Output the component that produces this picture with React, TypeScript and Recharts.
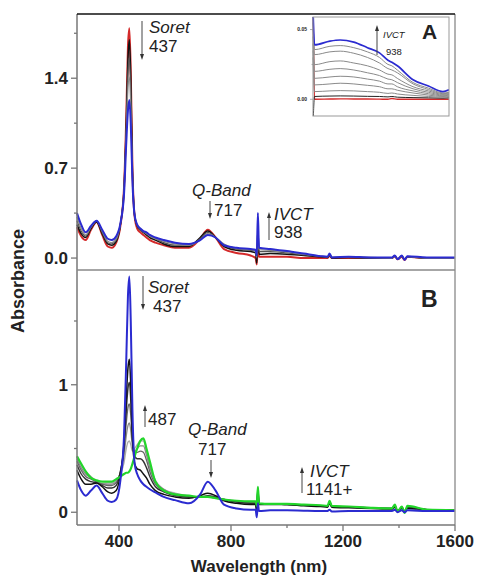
import { Line, LineChart, XAxis, YAxis } from "recharts";

const FONT = '"Liberation Sans", Arial, sans-serif';

// shared wavelength grid (nm) for both main panels
const WAVELENGTH = [
  250, 265, 281, 300, 320, 340, 360, 374, 390, 405,
  418, 426, 432, 437, 442, 448, 456, 465, 476, 487,
  498, 510, 530, 560, 600, 650, 690, 717, 745, 775,
  820, 870, 888, 892, 896, 900, 940, 1000, 1060, 1120,
  1145, 1152, 1160, 1220, 1300, 1375, 1385, 1395, 1410, 1420,
  1430, 1500, 1600,
];

// panel A (top)
const TOP_RED = [
  0.24, 0.17, 0.14, 0.22, 0.28, 0.18, 0.09, 0.08, 0.12, 0.25,
  0.55, 1.1, 1.65, 1.79, 1.45, 0.7, 0.32, 0.23, 0.2, 0.18,
  0.16, 0.14, 0.12, 0.1, 0.08, 0.08, 0.15, 0.22, 0.16, 0.07,
  0.04, 0.02, 0.0, -0.05, 0.1, 0.01, 0.01, 0.01, 0.0, 0.0,
  0.0, 0.02, 0.0, 0.0, 0.0, 0.0, 0.015, -0.01, 0.01, -0.015,
  0.01, 0.0, 0.0,
];
const TOP_BLACK = [
  0.26, 0.19, 0.16, 0.23, 0.28, 0.19, 0.11, 0.1, 0.13, 0.26,
  0.54, 1.05, 1.55, 1.7, 1.4, 0.68, 0.33, 0.25, 0.22, 0.2,
  0.18, 0.16, 0.14, 0.11, 0.09, 0.09, 0.16, 0.21, 0.16, 0.09,
  0.06, 0.05, 0.04, -0.04, 0.22, 0.03, 0.035, 0.03, 0.02, 0.01,
  0.005, 0.025, 0.0, 0.005, 0.0, 0.0, 0.015, -0.01, 0.015, -0.01,
  0.01, 0.0, 0.0,
];
const TOP_GRAY1 = [
  0.29, 0.21, 0.17, 0.24, 0.29, 0.2, 0.12, 0.11, 0.14, 0.26,
  0.53, 1.02, 1.45, 1.56, 1.3, 0.66, 0.33, 0.25, 0.22, 0.2,
  0.19, 0.17, 0.15, 0.12, 0.1, 0.1, 0.15, 0.2, 0.16, 0.1,
  0.07, 0.06, 0.055, 0.0, 0.15, 0.05, 0.05, 0.04, 0.025, 0.012,
  0.008, 0.03, 0.005, 0.005, 0.0, 0.0, 0.015, -0.005, 0.015, -0.01,
  0.01, 0.0, 0.0,
];
const TOP_GRAY2 = [
  0.32, 0.23, 0.18, 0.24, 0.29, 0.21, 0.13, 0.12, 0.15, 0.27,
  0.52, 0.97, 1.32, 1.41, 1.18, 0.63, 0.33, 0.26, 0.23, 0.21,
  0.19, 0.17, 0.15, 0.13, 0.11, 0.1, 0.14, 0.19, 0.16, 0.11,
  0.075, 0.065, 0.06, 0.01, 0.25, 0.065, 0.06, 0.05, 0.03, 0.015,
  0.01, 0.03, 0.005, 0.01, 0.005, 0.0, 0.02, -0.01, 0.015, -0.01,
  0.01, 0.0, 0.0,
];
const TOP_BLUE = [
  0.35, 0.26, 0.2, 0.25, 0.29, 0.22, 0.15, 0.14, 0.17, 0.27,
  0.5, 0.9, 1.15, 1.23, 1.05, 0.6, 0.33, 0.26, 0.23, 0.21,
  0.2, 0.18, 0.16, 0.14, 0.12, 0.11, 0.14, 0.18, 0.16, 0.1,
  0.08, 0.07, 0.065, 0.02, 0.35, 0.08, 0.07, 0.055, 0.035, 0.015,
  0.01, 0.035, 0.005, 0.01, 0.005, 0.005, 0.02, -0.01, 0.02, -0.015,
  0.015, 0.005, 0.005,
];

// panel B (bottom)
const BOT_BLUE = [
  0.25, 0.17, 0.13, 0.17, 0.21, 0.15, 0.09, 0.08, 0.1, 0.25,
  0.6, 1.2, 1.7, 1.85, 1.5, 0.8, 0.38, 0.3, 0.25, 0.22,
  0.2, 0.18, 0.155, 0.12, 0.095, 0.07, 0.14, 0.24, 0.17, 0.06,
  0.03, 0.02, 0.02, -0.04, 0.07, 0.01, 0.015, 0.015, 0.012, 0.01,
  0.01, 0.02, 0.005, 0.01, 0.01, 0.01, 0.02, 0.0, 0.015, 0.0,
  0.015, 0.01, 0.01,
];
const BOT_BLACK1 = [
  0.33, 0.26, 0.22, 0.22, 0.23, 0.2, 0.16, 0.15, 0.17, 0.3,
  0.55, 0.9, 1.13, 1.2, 1.0, 0.6, 0.38, 0.34, 0.33, 0.3,
  0.27, 0.22, 0.17, 0.14, 0.12, 0.11, 0.13, 0.15, 0.13, 0.09,
  0.07, 0.06, 0.06, 0.0, 0.19, 0.06, 0.06, 0.06, 0.05, 0.045,
  0.04, 0.07, 0.04, 0.035, 0.03, 0.025, 0.04, 0.01, 0.03, 0.01,
  0.03, 0.02, 0.015,
];
const BOT_BLACK2 = [
  0.37, 0.3, 0.26, 0.24, 0.23, 0.21, 0.19, 0.19, 0.21, 0.32,
  0.52, 0.8, 0.97, 1.02, 0.88, 0.58, 0.44, 0.42, 0.42, 0.4,
  0.35, 0.28, 0.2, 0.16, 0.13, 0.12, 0.12, 0.13, 0.12, 0.1,
  0.08, 0.07, 0.07, 0.02, 0.17, 0.065, 0.065, 0.06, 0.055, 0.05,
  0.045, 0.08, 0.045, 0.04, 0.035, 0.03, 0.05, 0.01, 0.04, 0.01,
  0.04, 0.02, 0.015,
];
const BOT_GRAY1 = [
  0.4, 0.33, 0.28, 0.26, 0.24, 0.22, 0.21, 0.21, 0.23, 0.32,
  0.49, 0.7, 0.82, 0.85, 0.76, 0.56, 0.47, 0.47, 0.48, 0.47,
  0.41, 0.32, 0.22, 0.17, 0.14, 0.12, 0.12, 0.125, 0.115, 0.1,
  0.085, 0.075, 0.075, 0.03, 0.15, 0.065, 0.065, 0.06, 0.055, 0.05,
  0.045, 0.08, 0.045, 0.04, 0.035, 0.03, 0.05, 0.01, 0.04, 0.01,
  0.04, 0.02, 0.015,
];
const BOT_GRAY2 = [
  0.42, 0.35, 0.3, 0.27, 0.24, 0.22, 0.22, 0.22, 0.24, 0.31,
  0.44, 0.6, 0.68, 0.7, 0.64, 0.52, 0.48, 0.5, 0.52, 0.52,
  0.45, 0.35, 0.24, 0.18, 0.14, 0.125, 0.12, 0.12, 0.11, 0.1,
  0.085, 0.08, 0.08, 0.04, 0.16, 0.068, 0.065, 0.062, 0.057, 0.052,
  0.047, 0.085, 0.047, 0.042, 0.035, 0.03, 0.055, 0.01, 0.04, 0.005,
  0.045, 0.02, 0.015,
];
const BOT_GRAY3 = [
  0.43, 0.37, 0.32, 0.28, 0.245, 0.225, 0.23, 0.23, 0.25, 0.3,
  0.39, 0.5, 0.55, 0.56, 0.53, 0.48, 0.5, 0.53, 0.56, 0.56,
  0.48, 0.37, 0.25, 0.18, 0.15, 0.13, 0.12, 0.12, 0.11, 0.1,
  0.09, 0.085, 0.085, 0.045, 0.18, 0.07, 0.065, 0.063, 0.058, 0.053,
  0.048, 0.088, 0.048, 0.043, 0.035, 0.03, 0.058, 0.008, 0.043, 0.0,
  0.048, 0.02, 0.015,
];
const BOT_GREEN = [
  0.44, 0.38, 0.32, 0.27, 0.25, 0.24, 0.24, 0.24, 0.26, 0.28,
  0.3, 0.31, 0.31, 0.32, 0.34, 0.38, 0.44, 0.5, 0.56, 0.58,
  0.5, 0.4, 0.24, 0.17, 0.14, 0.13, 0.12, 0.12, 0.11, 0.1,
  0.09, 0.085, 0.085, 0.05, 0.2, 0.07, 0.065, 0.065, 0.06, 0.055,
  0.05, 0.09, 0.05, 0.045, 0.035, 0.03, 0.06, 0.005, 0.045, -0.005,
  0.05, 0.02, 0.015,
];

// inset (NIR region of panel A)
const INSET_WL = [890, 895, 946, 980, 1025, 1070, 1110, 1138, 1151, 1169, 1221, 1272, 1320, 1340];
const INSET_BLUE = [0.065, 0.039, 0.0417, 0.0425, 0.041, 0.037, 0.0333, 0.028, 0.0265, 0.024, 0.014, 0.0095, 0.0055, 0.0068];
const INSET_G1 = [0.06, 0.0356, 0.038, 0.0385, 0.037, 0.034, 0.03, 0.025, 0.024, 0.021, 0.012, 0.008, 0.0045, 0.005];
const INSET_G2 = [0.055, 0.032, 0.034, 0.0345, 0.033, 0.03, 0.026, 0.022, 0.021, 0.019, 0.011, 0.007, 0.004, 0.0045];
const INSET_G3 = [0.05, 0.0248, 0.027, 0.0275, 0.026, 0.024, 0.021, 0.018, 0.0175, 0.015, 0.009, 0.006, 0.0035, 0.004];
const INSET_G4 = [0.045, 0.02, 0.0215, 0.022, 0.021, 0.019, 0.017, 0.0145, 0.014, 0.012, 0.0075, 0.005, 0.003, 0.0035];
const INSET_G5 = [0.04, 0.015, 0.016, 0.0165, 0.016, 0.0145, 0.013, 0.011, 0.011, 0.009, 0.006, 0.004, 0.0025, 0.003];
const INSET_G6 = [0.035, 0.0103, 0.011, 0.0115, 0.011, 0.01, 0.009, 0.0075, 0.0075, 0.0065, 0.0045, 0.003, 0.002, 0.0025];
const INSET_G7 = [0.03, 0.0055, 0.006, 0.0062, 0.006, 0.0055, 0.005, 0.0042, 0.0045, 0.0038, 0.0028, 0.002, 0.0015, 0.002];
const INSET_DARK = [-0.02, 0.002, 0.0023, 0.0024, 0.0023, 0.0021, 0.002, 0.0017, 0.002, 0.0015, 0.0012, 0.001, 0.0008, 0.001];
const INSET_RED = [0.08, 0.0, 0.0002, 0.0003, 0.0002, 0.0002, 0.0001, 0.0, 0.0005, 0.0, 0.0, 0.0, 0.0, 0.0];

const X_TICKS = [400, 600, 800, 1000, 1200, 1400, 1600];
const X_LABELS: Record<string, string> = { "400": "400", "800": "800", "1200": "1200", "1600": "1600" };
const TOP_TICKS = [0, 0.35, 0.7, 1.05, 1.4, 1.75];
const TOP_LABELS: Record<string, string> = { "0": "0.0", "0.7": "0.7", "1.4": "1.4" };
const BOT_TICKS = [0, 0.5, 1, 1.5];
const BOT_LABELS: Record<string, string> = { "0": "0", "1": "1" };
const INSET_TICKS = [0, 0.025, 0.05];
const INSET_LABELS: Record<string, string> = { "0": "0.00", "0.05": "0.05" };

function rows(wl: number[], series: Record<string, number[]>) {
  return wl.map((w, i) => {
    const row: Record<string, number> = { wl: w };
    for (const key in series) row[key] = series[key][i];
    return row;
  });
}

const topData = rows(WAVELENGTH, { red: TOP_RED, black: TOP_BLACK, g1: TOP_GRAY1, g2: TOP_GRAY2, blue: TOP_BLUE });
const botData = rows(WAVELENGTH, {
  blue: BOT_BLUE, b1: BOT_BLACK1, b2: BOT_BLACK2, g1: BOT_GRAY1, g2: BOT_GRAY2, g3: BOT_GRAY3, green: BOT_GREEN,
});
const insetData = rows(INSET_WL, {
  blue: INSET_BLUE, g1: INSET_G1, g2: INSET_G2, g3: INSET_G3, g4: INSET_G4, g5: INSET_G5,
  g6: INSET_G6, g7: INSET_G7, dark: INSET_DARK, red: INSET_RED,
});

function yTick(labels: Record<string, string>, size: number, len: number) {
  return (p: any) => {
    const label = labels[String(p.payload.value)];
    return (
      <g>
        <line x1={p.x} x2={p.x - (label ? len : len / 2)} y1={p.y} y2={p.y} stroke="#777" strokeWidth={size > 8 ? 1.3 : 0.6} />
        {label && (
          <text x={p.x - len - 3} y={p.y} dy={size * 0.35} textAnchor="end" fontFamily={FONT} fontWeight="bold" fontSize={size} fill="#222">
            {label}
          </text>
        )}
      </g>
    );
  };
}

function xTick(p: any) {
  const label = X_LABELS[String(p.payload.value)];
  return (
    <g>
      <line x1={p.x} x2={p.x} y1={p.y} y2={p.y + (label ? 6 : 3)} stroke="#777" strokeWidth={1.3} />
      {label && (
        <text x={p.x} y={p.y + 22} textAnchor="middle" fontFamily={FONT} fontWeight="bold" fontSize={17} fill="#222">
          {label}
        </text>
      )}
    </g>
  );
}

function Arrow({ x, from, to }: { x: number; from: number; to: number }) {
  const dir = to > from ? 1 : -1;
  return (
    <g>
      <line x1={x} x2={x} y1={from} y2={to - dir * 4} stroke="#444" strokeWidth={1} />
      <path d={`M${x - 2},${to - dir * 6} L${x + 2},${to - dir * 6} L${x},${to} Z`} fill="#333" />
    </g>
  );
}

function series(key: string, color: string, width: number) {
  return (
    <Line key={key} type="monotone" dataKey={key} stroke={color} strokeWidth={width} dot={false} isAnimationActive={false} />
  );
}

const txt = { fontFamily: FONT, fill: "#222" };

export default function App() {
  return (
    <div style={{ position: "absolute", left: 0, top: 0, width: 477, height: 582, background: "#fff" }}>
      <div style={{ position: "absolute", left: 0, top: 0 }}>
        <LineChart width={477} height={270} data={topData} margin={{ top: 14, right: 22, bottom: 0, left: 0 }}>
          <XAxis dataKey="wl" type="number" domain={[250, 1600]} hide />
          <YAxis
            width={77}
            domain={[-0.093, 1.9]}
            allowDataOverflow
            ticks={TOP_TICKS}
            tickSize={0}
            tickMargin={0}
            tickLine={false}
            axisLine={false}
            tick={yTick(TOP_LABELS, 17, 6)}
          />
          {series("red", "#d42a2a", 2)}
          {series("black", "#111", 1.5)}
          {series("g1", "#555", 1.2)}
          {series("g2", "#888", 1.2)}
          {series("blue", "#2b2bd0", 2)}
        </LineChart>
      </div>
      <div style={{ position: "absolute", left: 0, top: 270 }}>
        <LineChart width={477} height={312} data={botData} margin={{ top: 0, right: 22, bottom: 0, left: 0 }}>
          <XAxis
            dataKey="wl"
            type="number"
            domain={[250, 1600]}
            ticks={X_TICKS}
            height={57}
            tickSize={0}
            tickMargin={0}
            tickLine={false}
            axisLine={false}
            tick={xTick}
          />
          <YAxis
            width={77}
            domain={[-0.1, 1.9]}
            allowDataOverflow
            ticks={BOT_TICKS}
            tickSize={0}
            tickMargin={0}
            tickLine={false}
            axisLine={false}
            tick={yTick(BOT_LABELS, 17, 6)}
          />
          {series("g3", "#aaa", 1.3)}
          {series("g2", "#888", 1.3)}
          {series("g1", "#666", 1.3)}
          {series("b2", "#333", 1.4)}
          {series("b1", "#111", 1.5)}
          {series("green", "#22d62a", 2.2)}
          {series("blue", "#2b2bd0", 2)}
        </LineChart>
      </div>
      <div style={{ position: "absolute", left: 290, top: 17, background: "#fff" }}>
        <LineChart width={159} height={99} data={insetData} margin={{ top: 0, right: 0, bottom: 0, left: 0 }}>
          <XAxis dataKey="wl" type="number" domain={[890, 1340]} hide />
          <YAxis
            width={23}
            domain={[-0.012, 0.059]}
            allowDataOverflow
            ticks={INSET_TICKS}
            tickSize={0}
            tickMargin={0}
            tickLine={false}
            axisLine={false}
            tick={yTick(INSET_LABELS, 5, 3)}
          />
          {series("red", "#d42a2a", 1.4)}
          {series("dark", "#222", 1)}
          {series("g7", "#8a8a8a", 1)}
          {series("g6", "#8a8a8a", 1)}
          {series("g5", "#8a8a8a", 1)}
          {series("g4", "#8a8a8a", 1)}
          {series("g3", "#8a8a8a", 1)}
          {series("g2", "#8a8a8a", 1)}
          {series("g1", "#8a8a8a", 1)}
          {series("blue", "#2b2bd0", 1.7)}
        </LineChart>
      </div>
      <svg width={477} height={582} style={{ position: "absolute", left: 0, top: 0, pointerEvents: "none" }}>
        {/* frames */}
        <line x1={77} x2={77} y1={14} y2={525} stroke="#777" strokeWidth={1.5} />
        <line x1={455} x2={455} y1={14} y2={525} stroke="#999" strokeWidth={1.5} />
        <line x1={77} x2={455} y1={14} y2={14} stroke="#111" strokeWidth={1.5} />
        <line x1={77} x2={455} y1={270} y2={270} stroke="#888" strokeWidth={1.5} />
        <line x1={77} x2={455} y1={525} y2={525} stroke="#777" strokeWidth={1.5} />
        <rect x={313} y={17} width={136} height={99} fill="none" stroke="#999" strokeWidth={1} />

        {/* panel A annotations */}
        <Arrow x={142} from={21} to={60} />
        <text x={149} y={33} fontSize={17} fontStyle="italic" {...txt}>Soret</text>
        <text x={149} y={52} fontSize={17} {...txt}>437</text>
        <text x={192} y={196} fontSize={17} fontStyle="italic" {...txt}>Q-Band</text>
        <Arrow x={210} from={201} to={219} />
        <text x={214} y={216} fontSize={17} {...txt}>717</text>
        <Arrow x={269} from={240} to={212} />
        <text x={274} y={220} fontSize={17} fontStyle="italic" {...txt}>IVCT</text>
        <text x={274} y={238} fontSize={17} {...txt}>938</text>

        {/* inset annotations */}
        <Arrow x={377} from={55} to={25} />
        <text x={383} y={38} fontSize={9.5} fontStyle="italic" {...txt}>IVCT</text>
        <text x={386} y={55} fontSize={9.5} {...txt}>938</text>
        <text x={422} y={39} fontSize={21} fontWeight="bold" {...txt}>A</text>

        {/* panel B annotations */}
        <Arrow x={143} from={276} to={310} />
        <text x={148} y={293} fontSize={17} fontStyle="italic" {...txt}>Soret</text>
        <text x={153} y={312} fontSize={17} {...txt}>437</text>
        <Arrow x={145} from={427} to={405} />
        <text x={148} y={425} fontSize={17} {...txt}>487</text>
        <text x={188} y={435} fontSize={17} fontStyle="italic" {...txt}>Q-Band</text>
        <text x={198} y={455} fontSize={17} {...txt}>717</text>
        <Arrow x={211} from={460} to={478} />
        <Arrow x={302} from={493} to={467} />
        <text x={310} y={477} fontSize={17} fontStyle="italic" {...txt}>IVCT</text>
        <text x={306} y={495} fontSize={17} {...txt}>1141+</text>
        <text x={421} y={307} fontSize={23} fontWeight="bold" {...txt}>B</text>

        {/* axis titles */}
        <text x={0} y={0} transform="translate(24,281) rotate(-90)" textAnchor="middle" fontSize={18} fontWeight="bold" {...txt}>
          Absorbance
        </text>
        <text x={259} y={572} textAnchor="middle" fontSize={17} fontWeight="bold" {...txt}>
          Wavelength (nm)
        </text>
      </svg>
    </div>
  );
}
